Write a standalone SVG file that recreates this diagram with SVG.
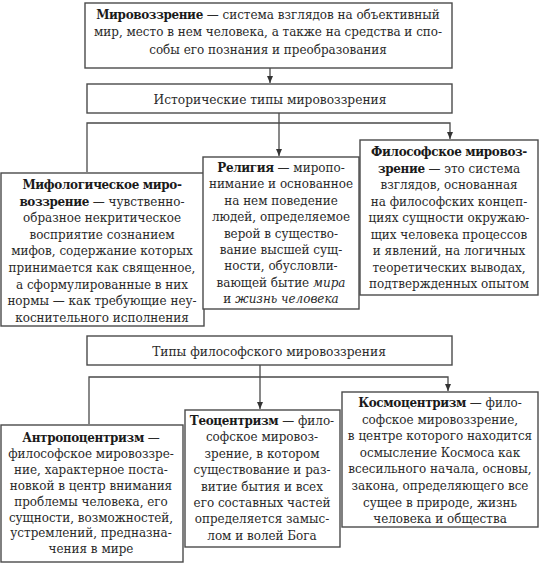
<svg xmlns="http://www.w3.org/2000/svg" width="540" height="564" viewBox="0 0 540 564">
<defs>
<style>
.box{fill:#fff;stroke:#4a4a4a;stroke-width:1.4}
.t{font-family:'DejaVu Serif Condensed','DejaVu Serif',serif;font-stretch:condensed;font-size:13.3px;fill:#2a2a2a;text-anchor:middle}
.big{font-size:13.6px}
.b{font-weight:bold;fill:#1a1a1a;letter-spacing:-0.35px}
.i{font-style:italic}
.ln{fill:none;stroke:#4a4a4a;stroke-width:1.3}
</style>
<marker id="ar" markerWidth="8" markerHeight="8" refX="7" refY="4" orient="auto" markerUnits="userSpaceOnUse">
<path d="M0,1 L7,4 L0,7 Z" fill="#333"/>
</marker>
</defs>
<g id="connectors">
<path class="ln" d="M270,68 V83" marker-end="url(#ar)"/>
<path class="ln" d="M279,113 V156" marker-end="url(#ar)"/>
<path class="ln" d="M87,172 V123 H450 V139" marker-end="url(#ar)"/>
<path class="ln" d="M260,365 V409" marker-end="url(#ar)"/>
<path class="ln" d="M89,424 V377 H448 V391" marker-end="url(#ar)"/>
</g>
<g id="n-worldview">
<rect class="box" x="85" y="3" width="367" height="65"/>
<text class="t" x="268" y="18.5"><tspan class="b">Мировоззрение</tspan> — система взглядов на объективный</text>
<text class="t" x="268" y="36">мир, место в нем человека, а также на средства и спо-</text>
<text class="t" x="268" y="53.5">собы его познания и преобразования</text>
</g>
<g id="n-historical">
<rect class="box" x="87" y="84" width="365" height="29"/>
<text class="t big" x="270" y="103.5">Исторические типы мировоззрения</text>
</g>
<g id="n-myth">
<rect class="box" x="1" y="173" width="203" height="153"/>
<text class="t" x="102" y="189"><tspan class="b">Мифологическое миро-</tspan></text>
<text class="t" x="102" y="205.6"><tspan class="b">воззрение</tspan> — чувственно-</text>
<text class="t" x="102" y="222.2">образное некритическое</text>
<text class="t" x="102" y="238.8">восприятие сознанием</text>
<text class="t" x="102" y="255.4">мифов, содержание которых</text>
<text class="t" x="102" y="272">принимается как священное,</text>
<text class="t" x="102" y="288.6">а сформулированные в них</text>
<text class="t" x="102" y="305.2">нормы — как требующие неу-</text>
<text class="t" x="102" y="321.8">коснительного исполнения</text>
</g>
<g id="n-religion">
<rect class="box" x="203" y="157" width="156" height="152"/>
<text class="t" x="281" y="172"><tspan class="b">Религия</tspan> — миропо-</text>
<text class="t" x="281" y="188.4">нимание и основанное</text>
<text class="t" x="281" y="204.8">на нем поведение</text>
<text class="t" x="281" y="221.2">людей, определяемое</text>
<text class="t" x="281" y="237.6">верой в существо-</text>
<text class="t" x="281" y="254">вание высшей сущ-</text>
<text class="t" x="281" y="270.4">ности, обусловли-</text>
<text class="t" x="281" y="286.8">вающей бытие <tspan class="i">мира</tspan></text>
<text class="t" x="281" y="303.2">и <tspan class="i">жизнь человека</tspan></text>
</g>
<g id="n-philosophical">
<rect class="box" x="360" y="140" width="178" height="155"/>
<text class="t" x="449" y="156"><tspan class="b">Философское мировоз-</tspan></text>
<text class="t" x="449" y="172.5"><tspan class="b">зрение</tspan> — это система</text>
<text class="t" x="449" y="189">взглядов, основанная</text>
<text class="t" x="449" y="205.5">на философских концеп-</text>
<text class="t" x="449" y="222">циях сущности окружаю-</text>
<text class="t" x="449" y="238.5">щих человека процессов</text>
<text class="t" x="449" y="255">и явлений, на логичных</text>
<text class="t" x="449" y="271.5">теоретических выводах,</text>
<text class="t" x="449" y="288">подтвержденных опытом</text>
</g>
<g id="n-types">
<rect class="box" x="87" y="336" width="365" height="29"/>
<text class="t big" x="269" y="355.5">Типы философского мировоззрения</text>
</g>
<g id="n-anthropo">
<rect class="box" x="1" y="425" width="182" height="137"/>
<text class="t" x="91" y="442"><tspan class="b">Антропоцентризм</tspan> —</text>
<text class="t" x="91" y="457.9">философское мировоззре-</text>
<text class="t" x="91" y="473.8">ние, характерное поста-</text>
<text class="t" x="91" y="489.7">новкой в центр внимания</text>
<text class="t" x="91" y="505.6">проблемы человека, его</text>
<text class="t" x="91" y="521.5">сущности, возможностей,</text>
<text class="t" x="91" y="537.4">устремлений, предназна-</text>
<text class="t" x="91" y="553.3">чения в мире</text>
</g>
<g id="n-theo">
<rect class="box" x="185" y="410" width="155" height="137"/>
<text class="t" x="262" y="425"><tspan class="b">Теоцентризм</tspan> — фило-</text>
<text class="t" x="262" y="441.4">софское мировоз-</text>
<text class="t" x="262" y="457.8">зрение, в котором</text>
<text class="t" x="262" y="474.2">существование и раз-</text>
<text class="t" x="262" y="490.6">витие бытия и всех</text>
<text class="t" x="262" y="507">его составных частей</text>
<text class="t" x="262" y="523.4">определяется замыс-</text>
<text class="t" x="262" y="539.8">лом и волей Бога</text>
</g>
<g id="n-cosmo">
<rect class="box" x="342" y="392" width="196" height="135"/>
<text class="t" x="440" y="407"><tspan class="b">Космоцентризм</tspan> — фило-</text>
<text class="t" x="440" y="423.6">софское мировоззрение,</text>
<text class="t" x="440" y="440.2">в центре которого находится</text>
<text class="t" x="440" y="456.8">осмысление Космоса как</text>
<text class="t" x="440" y="473.4">всесильного начала, основы,</text>
<text class="t" x="440" y="490">закона, определяющего все</text>
<text class="t" x="440" y="506.6">сущее в природе, жизнь</text>
<text class="t" x="440" y="523.2">человека и общества</text>
</g>
</svg>
